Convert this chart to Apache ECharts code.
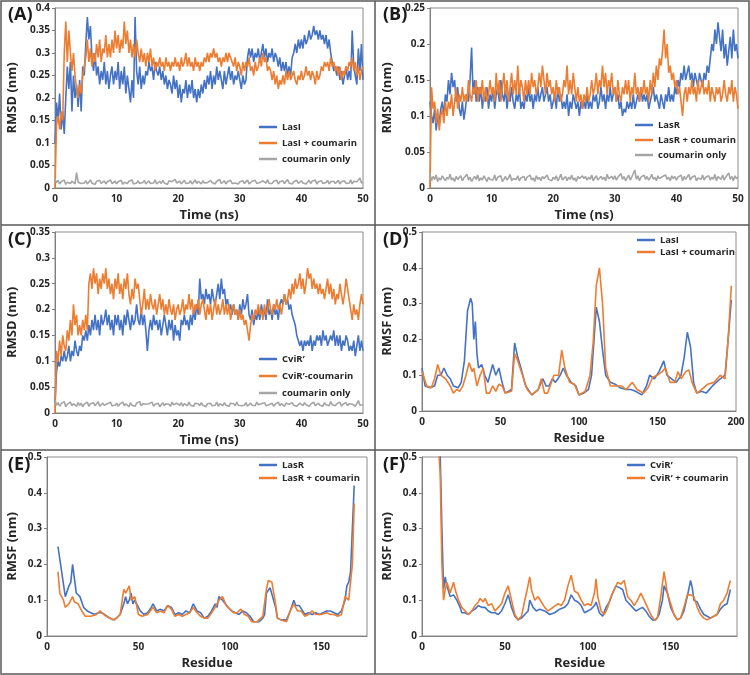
<!DOCTYPE html>
<html><head><meta charset="utf-8">
<script src="https://cdn.jsdelivr.net/npm/echarts@6/dist/echarts.min.js"></script>
<style>html,body{margin:0;padding:0;background:#fff}#c{width:750px;height:675px}</style>
</head><body><div id="c"></div>
<script>
// ---------- RMSD data (time step 0.25 ns, 0..50 ns) ----------
const rmsdStep = 0.25;

const lasI_rmsd = [
0.10,0.19,0.15,0.21, 0.13,0.17,0.12,0.20, 0.27,0.22,0.28,0.17, 0.25,0.20,0.23,0.18, 0.24,0.17,0.27,0.25,
0.32,0.38,0.33,0.36, 0.29,0.26,0.30,0.25, 0.27,0.23,0.26,0.24, 0.28,0.23,0.26,0.22, 0.25,0.27,0.23,0.26,
0.24,0.28,0.22,0.26, 0.23,0.27,0.21,0.25, 0.22,0.19,0.24,0.20, 0.38,0.26,0.23,0.27, 0.22,0.25,0.23,0.26,
0.25,0.28,0.26,0.27, 0.24,0.28,0.26,0.25, 0.27,0.24,0.26,0.23, 0.25,0.22,0.24,0.23, 0.21,0.25,0.22,0.24,
0.20,0.23,0.19,0.22, 0.21,0.24,0.20,0.23, 0.21,0.24,0.20,0.22, 0.19,0.22,0.20,0.23, 0.21,0.24,0.22,0.25,
0.23,0.26,0.22,0.25, 0.23,0.27,0.24,0.26, 0.24,0.22,0.26,0.23, 0.25,0.27,0.24,0.26, 0.23,0.25,0.24,0.26,
0.24,0.22,0.25,0.23, 0.24,0.29,0.31,0.29, 0.31,0.28,0.30,0.29, 0.31,0.28,0.30,0.32, 0.29,0.31,0.28,0.30,
0.29,0.31,0.28,0.30, 0.29,0.27,0.29,0.26, 0.28,0.26,0.28,0.25, 0.27,0.25,0.29,0.30, 0.32,0.30,0.33,0.31,
0.33,0.31,0.34,0.32, 0.33,0.35,0.33,0.34, 0.36,0.34,0.35,0.33, 0.35,0.33,0.34,0.32, 0.34,0.31,0.33,0.30,
0.28,0.26,0.27,0.25, 0.27,0.24,0.26,0.23, 0.25,0.27,0.24,0.26, 0.24,0.35,0.27,0.25, 0.23,0.31,0.26,0.32,
0.24];

const lasIcou_rmsd = [
0.00,0.14,0.16,0.13, 0.17,0.15,0.30,0.37, 0.28,0.35,0.30,0.26, 0.30,0.25,0.22,0.20, 0.23,0.21,0.25,0.27,
0.29,0.33,0.28,0.31, 0.27,0.30,0.28,0.32, 0.29,0.33,0.28,0.31, 0.30,0.34,0.29,0.32, 0.29,0.33,0.30,0.35,
0.31,0.34,0.30,0.33, 0.31,0.37,0.32,0.35, 0.30,0.33,0.29,0.32, 0.29,0.33,0.30,0.28, 0.31,0.28,0.30,0.27,
0.30,0.28,0.31,0.27, 0.29,0.26,0.28,0.27, 0.29,0.27,0.28,0.26, 0.29,0.27,0.28,0.26, 0.28,0.27,0.29,0.27,
0.28,0.26,0.29,0.27, 0.28,0.30,0.27,0.29, 0.27,0.28,0.26,0.29, 0.27,0.28,0.26,0.28, 0.27,0.29,0.28,0.30,
0.28,0.30,0.29,0.31, 0.29,0.30,0.28,0.29, 0.27,0.29,0.28,0.30, 0.28,0.30,0.29,0.28, 0.27,0.29,0.26,0.28,
0.27,0.25,0.28,0.26, 0.28,0.27,0.29,0.26, 0.27,0.25,0.28,0.26, 0.27,0.29,0.27,0.30, 0.28,0.29,0.26,0.27,
0.26,0.24,0.26,0.23, 0.25,0.22,0.24,0.23, 0.25,0.23,0.26,0.24, 0.26,0.24,0.25,0.26, 0.24,0.23,0.25,0.24,
0.26,0.24,0.25,0.27, 0.25,0.26,0.24,0.26, 0.25,0.23,0.26,0.24, 0.25,0.27,0.26,0.28, 0.27,0.28,0.26,0.29,
0.27,0.28,0.26,0.27, 0.25,0.27,0.24,0.26, 0.25,0.27,0.26,0.28, 0.27,0.29,0.26,0.28, 0.25,0.27,0.24,0.26,
0.27];

const couA_rmsd = [
.020,.012,.017,.009,.014,.011,.018,.008,.013,.016,.010,.015,.012,.009,.034,.013,.017,.010,.014,.011,
.016,.009,.013,.018,.011,.014,.008,.015,.012,.017,.010,.013,.016,.009,.014,.011,.018,.010,.012,.015,
.009,.014,.011,.017,.008,.013,.016,.010,.015,.012,.018,.009,.013,.011,.016,.010,.014,.012,.017,.009,
.013,.016,.010,.014,.011,.018,.009,.012,.015,.010,.017,.011,.013,.008,.016,.012,.014,.010,.019,.011,
.012,.015,.009,.013,.017,.010,.014,.011,.016,.009,.013,.018,.010,.015,.012,.009,.016,.011,.014,.012,
.010,.017,.012,.014,.009,.015,.011,.019,.010,.013,.016,.009,.014,.012,.017,.010,.013,.011,.015,.009,
.014,.011,.016,.010,.013,.018,.009,.012,.015,.011,.017,.010,.014,.012,.009,.016,.013,.011,.018,.010,
.013,.010,.015,.012,.017,.009,.014,.011,.016,.010,.013,.019,.011,.015,.009,.014,.012,.017,.010,.013,
.016,.011,.014,.009,.013,.017,.010,.015,.012,.018,.009,.014,.011,.016,.010,.013,.012,.017,.009,.014,
.011,.015,.010,.013,.017,.009,.014,.012,.016,.010,.013,.011,.018,.009,.015,.012,.014,.010,.022,.011,
.013];

const lasR_rmsd = [
0.12,0.10,0.09,0.11, 0.08,0.10,0.09,0.11, 0.12,0.10,0.13,0.12, 0.15,0.13,0.16,0.14, 0.15,0.12,0.14,0.11,
0.10,0.12,0.095,0.11, 0.13,0.12,0.15,0.195, 0.13,0.15,0.12,0.14, 0.12,0.14,0.11,0.13, 0.12,0.14,0.11,0.13,
0.12,0.14,0.11,0.13, 0.14,0.12,0.15,0.13, 0.12,0.14,0.11,0.13, 0.12,0.14,0.12,0.11, 0.13,0.12,0.14,0.11,
0.12,0.11,0.13,0.12, 0.14,0.12,0.13,0.11, 0.13,0.12,0.14,0.12, 0.13,0.14,0.12,0.13, 0.14,0.12,0.13,0.11,
0.12,0.13,0.11,0.14, 0.12,0.13,0.11,0.12, 0.11,0.13,0.10,0.12, 0.11,0.13,0.12,0.11, 0.12,0.10,0.12,0.11,
0.12,0.11,0.13,0.11, 0.12,0.11,0.13,0.12, 0.13,0.11,0.12,0.14, 0.12,0.13,0.11,0.13, 0.12,0.14,0.12,0.13,
0.14,0.12,0.13,0.11, 0.12,0.10,0.11,0.105, 0.12,0.11,0.12,0.11, 0.13,0.11,0.12,0.13, 0.12,0.14,0.12,0.13,
0.12,0.13,0.11,0.12, 0.13,0.14,0.12,0.13, 0.12,0.11,0.13,0.12, 0.11,0.13,0.12,0.14, 0.12,0.13,0.12,0.14,
0.13,0.15,0.14,0.16, 0.15,0.17,0.15,0.16, 0.17,0.15,0.16,0.14, 0.16,0.15,0.14,0.16, 0.15,0.14,0.16,0.15,
0.17,0.16,0.18,0.20, 0.19,0.22,0.20,0.23, 0.21,0.19,0.22,0.18, 0.20,0.17,0.19,0.21, 0.18,0.22,0.19,0.20,
0.18];

const lasRcou_rmsd = [
0.00,0.14,0.11,0.12, 0.09,0.11,0.08,0.10, 0.11,0.09,0.12,0.10, 0.12,0.11,0.13,0.10, 0.12,0.14,0.11,0.13,
0.12,0.14,0.12,0.13, 0.12,0.15,0.13,0.12, 0.14,0.13,0.15,0.12, 0.14,0.13,0.15,0.12, 0.14,0.12,0.13,0.15,
0.13,0.14,0.12,0.16, 0.13,0.15,0.12,0.14, 0.16,0.13,0.15,0.12, 0.14,0.16,0.13,0.15, 0.13,0.17,0.13,0.15,
0.14,0.12,0.15,0.13, 0.15,0.13,0.16,0.14, 0.15,0.13,0.14,0.16, 0.14,0.17,0.15,0.13, 0.16,0.14,0.15,0.13,
0.14,0.12,0.15,0.13, 0.14,0.12,0.13,0.15, 0.14,0.17,0.13,0.15, 0.13,0.16,0.14,0.12, 0.14,0.12,0.13,0.11,
0.13,0.12,0.14,0.12, 0.13,0.15,0.13,0.14, 0.16,0.13,0.15,0.14, 0.17,0.14,0.16,0.13, 0.15,0.14,0.16,0.13,
0.14,0.12,0.15,0.13, 0.12,0.14,0.13,0.15, 0.13,0.15,0.12,0.14, 0.13,0.16,0.13,0.14, 0.12,0.14,0.13,0.15,
0.13,0.14,0.12,0.15, 0.13,0.16,0.14,0.17, 0.15,0.18,0.17,0.19, 0.22,0.18,0.20,0.16, 0.17,0.15,0.16,0.14,
0.15,0.13,0.14,0.12, 0.10,0.13,0.14,0.12, 0.14,0.13,0.15,0.13, 0.14,0.12,0.15,0.13, 0.14,0.15,0.13,0.14,
0.13,0.15,0.12,0.14, 0.13,0.12,0.14,0.13, 0.14,0.12,0.13,0.15, 0.13,0.12,0.14,0.13, 0.15,0.12,0.14,0.13,
0.11];

const couB_rmsd = [
.020,.010,.016,.012,.018,.009,.014,.011,.017,.013,.010,.015,.012,.019,.011,.014,.009,.016,.012,.013,
.017,.010,.014,.012,.019,.011,.015,.009,.013,.016,.012,.018,.010,.014,.011,.017,.013,.009,.015,.012,
.014,.011,.018,.010,.015,.013,.017,.009,.012,.016,.011,.014,.019,.010,.013,.015,.012,.017,.010,.014,
.012,.016,.010,.015,.013,.018,.011,.014,.009,.017,.012,.015,.010,.016,.013,.011,.018,.012,.014,.010,
.015,.012,.017,.010,.014,.019,.011,.013,.016,.010,.015,.012,.018,.011,.014,.009,.016,.013,.011,.017,
.013,.016,.011,.015,.012,.018,.010,.014,.017,.011,.013,.016,.012,.015,.010,.019,.013,.011,.016,.012,
.017,.011,.015,.013,.020,.012,.016,.010,.014,.018,.011,.015,.013,.025,.012,.017,.010,.015,.013,.018,
.012,.016,.011,.014,.019,.012,.015,.010,.017,.013,.011,.016,.014,.018,.012,.015,.010,.017,.013,.016,
.011,.015,.013,.018,.010,.016,.012,.014,.019,.011,.015,.013,.017,.010,.014,.016,.012,.018,.011,.015,
.013,.017,.011,.015,.012,.019,.010,.016,.014,.012,.018,.011,.015,.013,.021,.012,.016,.010,.017,.013,
.015];

const cviR_rmsd = [
0.02,0.08,0.10,0.09, 0.11,0.10,0.12,0.10, 0.11,0.13,0.10,0.12, 0.11,0.14,0.12,0.11, 0.13,0.12,0.15,0.14,
0.16,0.14,0.17,0.15, 0.18,0.16,0.19,0.16, 0.18,0.15,0.19,0.17, 0.18,0.20,0.17,0.19, 0.16,0.18,0.15,0.19,
0.17,0.19,0.16,0.18, 0.15,0.19,0.17,0.20, 0.18,0.16,0.19,0.17, 0.18,0.21,0.18,0.17, 0.20,0.17,0.19,0.16,
0.12,0.16,0.18,0.16, 0.19,0.17,0.18,0.16, 0.18,0.15,0.17,0.19, 0.17,0.15,0.18,0.16, 0.18,0.14,0.17,0.15,
0.16,0.14,0.18,0.17, 0.19,0.17,0.18,0.16, 0.19,0.17,0.20,0.18, 0.21,0.19,0.26,0.22, 0.23,0.21,0.24,0.22,
0.23,0.21,0.24,0.22, 0.21,0.23,0.25,0.22, 0.26,0.23,0.24,0.21, 0.22,0.20,0.21,0.19, 0.21,0.19,0.20,0.18,
0.21,0.19,0.22,0.20, 0.21,0.23,0.19,0.18, 0.20,0.17,0.19,0.18, 0.20,0.18,0.21,0.19, 0.20,0.18,0.22,0.19,
0.20,0.18,0.21,0.19, 0.20,0.18,0.21,0.22, 0.21,0.23,0.21,0.22, 0.20,0.21,0.19,0.18, 0.17,0.15,0.14,0.13,
0.14,0.12,0.14,0.13, 0.14,0.13,0.15,0.12, 0.14,0.13,0.15,0.14, 0.15,0.13,0.16,0.14, 0.15,0.13,0.14,0.15,
0.14,0.16,0.13,0.15, 0.13,0.15,0.12,0.14, 0.13,0.15,0.14,0.12, 0.13,0.12,0.14,0.11, 0.13,0.15,0.12,0.14,
0.12];

const cviRcou_rmsd = [
0.00,0.12,0.10,0.14, 0.11,0.15,0.13,0.12, 0.16,0.14,0.18,0.15, 0.21,0.17,0.19,0.15, 0.17,0.15,0.18,0.16,
0.19,0.16,0.25,0.27, 0.24,0.28,0.25,0.27, 0.23,0.26,0.24,0.27, 0.25,0.28,0.24,0.26, 0.23,0.25,0.22,0.26,
0.24,0.27,0.23,0.25, 0.22,0.26,0.24,0.27, 0.23,0.21,0.24,0.22, 0.26,0.24,0.25,0.22, 0.19,0.21,0.24,0.20,
0.22,0.20,0.23,0.21, 0.20,0.22,0.19,0.21, 0.23,0.20,0.22,0.19, 0.21,0.19,0.22,0.20, 0.19,0.21,0.18,0.20,
0.21,0.19,0.20,0.22, 0.19,0.21,0.20,0.23, 0.20,0.22,0.19,0.21, 0.20,0.22,0.19,0.21, 0.22,0.20,0.18,0.21,
0.19,0.21,0.18,0.20, 0.22,0.19,0.21,0.19, 0.20,0.22,0.19,0.21, 0.19,0.21,0.18,0.20, 0.21,0.19,0.20,0.18,
0.20,0.18,0.19,0.17, 0.18,0.16,0.14,0.17, 0.19,0.18,0.20,0.19, 0.21,0.19,0.20,0.18, 0.21,0.19,0.20,0.22,
0.20,0.19,0.21,0.20, 0.22,0.20,0.21,0.19, 0.21,0.23,0.21,0.22, 0.24,0.22,0.25,0.23, 0.26,0.24,0.25,0.27,
0.24,0.26,0.23,0.25, 0.28,0.26,0.27,0.24, 0.26,0.24,0.25,0.23, 0.25,0.23,0.24,0.22, 0.24,0.26,0.23,0.25,
0.22,0.24,0.21,0.23, 0.22,0.25,0.23,0.21, 0.23,0.26,0.24,0.22, 0.20,0.18,0.21,0.19, 0.20,0.18,0.21,0.23,
0.21];

const couC_rmsd = [
.025,.015,.020,.013,.018,.016,.022,.012,.017,.015,.021,.014,.018,.016,.013,.020,.015,.019,.012,.017,
.016,.021,.013,.018,.015,.020,.014,.017,.022,.013,.016,.019,.015,.012,.018,.016,.021,.014,.017,.015,
.019,.013,.017,.015,.021,.014,.018,.016,.012,.020,.015,.017,.013,.019,.016,.022,.014,.018,.015,.017,
.014,.018,.016,.021,.013,.017,.015,.019,.012,.016,.020,.014,.018,.015,.017,.013,.021,.016,.014,.019,
.017,.015,.020,.013,.018,.016,.014,.021,.015,.017,.013,.019,.016,.018,.014,.020,.015,.017,.012,.018,
.016,.019,.014,.017,.015,.021,.013,.018,.016,.014,.020,.015,.017,.013,.019,.016,.018,.014,.021,.015,
.018,.014,.017,.015,.020,.013,.016,.019,.015,.017,.014,.021,.016,.013,.018,.015,.020,.014,.017,.016,
.015,.019,.013,.017,.016,.021,.014,.018,.015,.013,.019,.016,.017,.014,.020,.015,.018,.013,.016,.019,
.017,.014,.020,.016,.018,.013,.017,.015,.021,.014,.016,.019,.015,.017,.013,.020,.016,.018,.014,.022,
.016,.019,.014,.018,.015,.021,.013,.017,.016,.020,.014,.018,.015,.017,.019,.013,.016,.024,.015,.018,
.016];

// ---------- RMSF data ----------
const lasI_res = [0,2,5,8,10,12,14,16,18,20,23,25,27,29,31,32,33,34,35,36,38,40,42,45,47,49,51,53,57,59,61,63,66,70,74,77,79,81,83,85,88,90,92,95,98,100,103,106,108,111,113,115,117,120,123,126,130,133,136,140,143,145,148,151,154,156,159,162,165,167,169,171,173,175,178,181,185,190,193,195,197];
const lasI_rmsf = [0.12,0.07,0.065,0.07,0.10,0.10,0.12,0.10,0.09,0.07,0.065,0.08,0.14,0.28,0.315,0.30,0.20,0.25,0.16,0.12,0.13,0.10,0.08,0.13,0.10,0.12,0.08,0.05,0.06,0.19,0.15,0.12,0.07,0.045,0.06,0.09,0.07,0.07,0.09,0.08,0.10,0.12,0.10,0.08,0.07,0.045,0.05,0.06,0.10,0.29,0.25,0.17,0.10,0.08,0.075,0.065,0.06,0.06,0.055,0.045,0.07,0.10,0.09,0.11,0.14,0.10,0.09,0.08,0.10,0.15,0.22,0.18,0.08,0.05,0.055,0.05,0.07,0.09,0.10,0.20,0.31];

const lasIcou_res = [0,3,6,8,10,12,15,18,20,22,24,26,28,30,32,33,35,37,39,41,43,45,47,49,51,53,57,59,61,64,67,70,74,76,78,80,84,87,89,91,94,97,100,104,107,109,111,113,115,117,120,124,127,130,134,137,141,144,147,150,153,155,158,161,163,165,168,170,172,175,178,182,186,190,193,195,197];
const lasIcou_rmsf = [0.11,0.07,0.065,0.09,0.13,0.10,0.09,0.07,0.05,0.06,0.055,0.07,0.10,0.135,0.11,0.12,0.07,0.10,0.12,0.05,0.05,0.07,0.055,0.075,0.07,0.05,0.055,0.16,0.14,0.10,0.06,0.045,0.06,0.09,0.05,0.05,0.10,0.10,0.17,0.12,0.08,0.075,0.045,0.055,0.10,0.19,0.35,0.40,0.30,0.12,0.07,0.07,0.07,0.06,0.08,0.06,0.05,0.065,0.095,0.10,0.11,0.12,0.08,0.08,0.11,0.09,0.11,0.115,0.08,0.05,0.06,0.075,0.08,0.10,0.09,0.20,0.35];

const lasR_res = [6,8,10,12,13,14,15,16,18,20,22,24,26,28,30,33,36,38,40,42,43,44,45,46,47,48,49,51,53,55,57,58,60,62,64,66,68,70,72,74,76,78,80,82,84,86,88,90,92,93,94,96,97,99,101,103,105,107,109,111,113,116,118,119,120,122,123,125,126,128,131,133,135,136,138,139,141,143,145,147,149,151,153,155,157,159,161,163,164,165,166,167,168];
const lasR_rmsf = [0.25,0.18,0.11,0.14,0.15,0.20,0.16,0.12,0.11,0.08,0.07,0.065,0.06,0.065,0.065,0.055,0.045,0.05,0.06,0.09,0.11,0.09,0.10,0.12,0.09,0.10,0.10,0.07,0.06,0.065,0.08,0.09,0.07,0.075,0.07,0.085,0.08,0.06,0.065,0.06,0.07,0.065,0.09,0.07,0.065,0.05,0.055,0.07,0.09,0.08,0.11,0.10,0.105,0.08,0.07,0.065,0.06,0.07,0.065,0.055,0.04,0.04,0.05,0.06,0.12,0.135,0.13,0.08,0.05,0.045,0.045,0.07,0.10,0.085,0.085,0.08,0.06,0.065,0.06,0.065,0.06,0.065,0.07,0.07,0.065,0.06,0.07,0.10,0.14,0.15,0.18,0.30,0.42];

const lasRcou_res = [6,7,9,10,12,13,14,15,17,19,21,24,27,29,31,34,37,40,42,43,45,46,48,50,52,55,58,60,62,64,66,68,70,72,74,76,78,80,82,84,86,88,90,92,94,95,96,98,100,102,104,106,108,110,112,115,118,120,121,123,125,126,128,131,133,135,137,139,141,143,145,147,150,153,155,157,159,161,163,165,166,167,168];
const lasRcou_rmsf = [0.18,0.12,0.10,0.08,0.09,0.10,0.11,0.095,0.09,0.07,0.055,0.055,0.06,0.07,0.06,0.05,0.045,0.06,0.13,0.12,0.14,0.10,0.11,0.06,0.055,0.06,0.08,0.065,0.07,0.065,0.085,0.075,0.055,0.06,0.055,0.06,0.065,0.08,0.065,0.055,0.05,0.05,0.065,0.08,0.10,0.10,0.11,0.085,0.075,0.065,0.065,0.075,0.06,0.055,0.04,0.04,0.055,0.13,0.155,0.15,0.09,0.05,0.045,0.04,0.07,0.09,0.07,0.07,0.055,0.06,0.07,0.06,0.06,0.065,0.06,0.06,0.055,0.06,0.11,0.10,0.10,0.20,0.37];

const cviR_res = [10,11,12,13,14,15,17,19,21,23,24,26,28,30,32,34,36,38,40,42,44,46,48,50,52,54,56,58,60,62,64,65,67,69,71,74,77,80,83,86,88,90,92,94,96,98,100,102,104,105,107,109,111,113,115,117,119,121,123,125,127,129,131,133,135,137,139,141,143,145,146,148,150,152,154,156,158,160,162,163,164,166,168,170,172,174,176,178,180,182,184,186];
const cviR_rmsf = [0.60,0.50,0.30,0.13,0.165,0.14,0.11,0.115,0.10,0.08,0.065,0.065,0.06,0.07,0.075,0.085,0.08,0.08,0.07,0.065,0.065,0.06,0.07,0.09,0.115,0.08,0.055,0.045,0.05,0.06,0.07,0.10,0.08,0.07,0.075,0.07,0.06,0.065,0.075,0.08,0.09,0.115,0.10,0.095,0.085,0.065,0.07,0.075,0.085,0.095,0.065,0.055,0.08,0.095,0.12,0.14,0.135,0.13,0.10,0.09,0.08,0.07,0.075,0.08,0.07,0.055,0.045,0.045,0.06,0.10,0.14,0.12,0.08,0.06,0.045,0.05,0.07,0.11,0.155,0.135,0.10,0.095,0.075,0.06,0.055,0.05,0.055,0.06,0.075,0.085,0.09,0.13];

const cviRcou_res = [9,11,12,13,14,15,17,19,20,22,24,26,28,30,32,34,35,37,38,40,42,44,46,48,50,52,54,56,58,60,62,63,65,66,68,70,72,74,76,79,82,84,86,88,90,92,94,96,98,100,102,104,105,106,108,110,112,114,116,118,120,122,124,126,128,130,132,134,136,138,140,142,144,146,148,150,152,154,156,158,160,162,164,166,168,170,172,174,176,178,180,182,184,186];
const cviRcou_rmsf = [0.60,0.45,0.20,0.10,0.13,0.15,0.12,0.15,0.13,0.10,0.08,0.07,0.06,0.07,0.085,0.095,0.105,0.095,0.105,0.085,0.09,0.07,0.08,0.09,0.12,0.14,0.10,0.06,0.045,0.055,0.10,0.12,0.165,0.13,0.10,0.11,0.095,0.08,0.07,0.08,0.09,0.085,0.10,0.14,0.17,0.125,0.12,0.10,0.085,0.09,0.085,0.12,0.16,0.11,0.07,0.06,0.08,0.11,0.13,0.15,0.145,0.155,0.11,0.10,0.085,0.10,0.12,0.10,0.08,0.06,0.045,0.05,0.11,0.18,0.12,0.09,0.06,0.045,0.05,0.08,0.115,0.115,0.11,0.08,0.06,0.05,0.045,0.05,0.055,0.06,0.09,0.10,0.12,0.155];

// ---------- styling ----------
const BLUE = '#4472C4', ORANGE = '#ED7D31', GRAY = '#A5A5A5';
const FONT = '"Open Sans", "Liberation Sans", sans-serif';
const TXT = '#262626';

const timePairs = vals => vals.map((v, i) => [i * rmsdStep, v]);
const resPairs = (res, vals) => res.map((r, i) => [r, vals[i]]);

const panels = [
  { label:'(A)', lx:8, ly:6, grid:{left:55, top:8, width:308, height:180}, xmax:50, xint:10, xname:'Time (ns)', ymax:0.4, yint:0.05, yname:'RMSD (nm)', ygap:36,
    legend:{left:259, top:121, gap:4, data:['LasI','LasI + coumarin','coumarin only']} },
  { label:'(B)', lx:383, ly:6, grid:{left:430, top:8, width:308, height:180}, xmax:50, xint:10, xname:'Time (ns)', ymax:0.25, yint:0.05, yname:'RMSD (nm)', ygap:36,
    legend:{left:635, top:119, gap:3, data:['LasR','LasR + coumarin','coumarin only']} },
  { label:'(C)', lx:8, ly:231, grid:{left:55, top:232, width:308, height:181}, xmax:50, xint:10, xname:'Time (ns)', ymax:0.35, yint:0.05, yname:'RMSD (nm)', ygap:36,
    legend:{left:259, top:353, gap:5, data:["CviR’","CviR’-coumarin",'coumarin only']} },
  { label:'(D)', lx:383, ly:231, grid:{left:422, top:232, width:314, height:179}, xmax:200, xint:50, xname:'Residue', ymax:0.5, yint:0.1, yname:'RMSF (nm)', ygap:28,
    legend:{left:637, top:234, gap:0, data:['LasI','LasI + coumarin']} },
  { label:'(E)', lx:8, ly:456, grid:{left:47, top:457, width:320, height:179}, xmax:175, xint:50, xname:'Residue', ymax:0.5, yint:0.1, yname:'RMSF (nm)', ygap:28,
    legend:{left:259, top:459, gap:1, data:['LasR','LasR + coumarin']} },
  { label:'(F)', lx:383, ly:456, grid:{left:422, top:457, width:315, height:179}, xmax:190, xint:50, xname:'Residue', ymax:0.5, yint:0.1, yname:'RMSF (nm)', ygap:28,
    legend:{left:627, top:459, gap:1, data:["CviR’","CviR’ + coumarin"]} }
];

const seriesDefs = [
  [0,'LasI',BLUE,timePairs(lasI_rmsd),1.6],
  [0,'LasI + coumarin',ORANGE,timePairs(lasIcou_rmsd),1.6],
  [0,'coumarin only',GRAY,timePairs(couA_rmsd),1.6],
  [1,'LasR',BLUE,timePairs(lasR_rmsd),1.6],
  [1,'LasR + coumarin',ORANGE,timePairs(lasRcou_rmsd),1.6],
  [1,'coumarin only',GRAY,timePairs(couB_rmsd),1.6],
  [2,"CviR’",BLUE,timePairs(cviR_rmsd),1.6],
  [2,"CviR’-coumarin",ORANGE,timePairs(cviRcou_rmsd),1.6],
  [2,'coumarin only',GRAY,timePairs(couC_rmsd),1.6],
  [3,'LasI',BLUE,resPairs(lasI_res,lasI_rmsf),1.6],
  [3,'LasI + coumarin',ORANGE,resPairs(lasIcou_res,lasIcou_rmsf),1.6],
  [4,'LasR',BLUE,resPairs(lasR_res,lasR_rmsf),1.6],
  [4,'LasR + coumarin',ORANGE,resPairs(lasRcou_res,lasRcou_rmsf),1.6],
  [5,"CviR’",BLUE,resPairs(cviR_res,cviR_rmsf),1.6],
  [5,"CviR’ + coumarin",ORANGE,resPairs(cviRcou_res,cviRcou_rmsf),1.6]
];

const option = {
  animation: false,
  backgroundColor: '#fff',
  grid: panels.map(p => Object.assign({show:true, borderColor:'#8c8c8c', borderWidth:1, backgroundColor:'transparent'}, p.grid)),
  xAxis: panels.map((p, i) => ({
    type:'value', gridIndex:i, min:0, max:p.xmax, interval:p.xint,
    name:p.xname, nameLocation:'middle', nameGap:21,
    nameTextStyle:{fontFamily:FONT, fontWeight:'bold', fontSize:13, color:TXT},
    axisLine:{show:true, onZero:false, lineStyle:{color:'#7f7f7f'}},
    axisTick:{show:false},
    splitLine:{show:false},
    axisLabel:{fontFamily:FONT, fontWeight:'bold', fontSize:10, color:TXT, margin:6, showMaxLabel: p.xmax % p.xint === 0}
  })),
  yAxis: panels.map((p, i) => ({
    type:'value', gridIndex:i, min:0, max:p.ymax, interval:p.yint,
    name:p.yname, nameLocation:'middle', nameGap:p.ygap, nameRotate:90,
    nameTextStyle:{fontFamily:FONT, fontWeight:'bold', fontSize:13, color:TXT},
    axisLine:{show:true, lineStyle:{color:'#7f7f7f'}},
    axisTick:{show:true, length:3, lineStyle:{color:'#7f7f7f'}},
    splitLine:{show:false},
    axisLabel:{fontFamily:FONT, fontWeight:'bold', fontSize:10, color:TXT, margin:5}
  })),
  legend: panels.map(p => ({
    orient:'vertical', left:p.legend.left, top:p.legend.top, data:p.legend.data,
    icon:'rect', itemWidth:18, itemHeight:2.5, itemGap:p.legend.gap,
    selectedMode:false, padding:0,
    textStyle:{fontFamily:FONT, fontWeight:'bold', fontSize:9.5, color:TXT, lineHeight:12}
  })),
  series: seriesDefs.map(([g, name, color, data, w]) => ({
    type:'line', name, xAxisIndex:g, yAxisIndex:g, data,
    showSymbol:false, symbol:'none', clip:true,
    lineStyle:{color, width:w}, itemStyle:{color},
    emphasis:{disabled:true}
  })),
  graphic: [
    {type:'rect', shape:{x:1, y:1, width:748, height:673}, style:{fill:'none', stroke:'#595959', lineWidth:1.5}, silent:true},
    {type:'line', shape:{x1:375, y1:1, x2:375, y2:674}, style:{stroke:'#595959', lineWidth:1.5}, silent:true},
    {type:'line', shape:{x1:1, y1:225, x2:749, y2:225}, style:{stroke:'#595959', lineWidth:1.5}, silent:true},
    {type:'line', shape:{x1:1, y1:450, x2:749, y2:450}, style:{stroke:'#595959', lineWidth:1.5}, silent:true}
  ].concat(panels.map(p => ({
    type:'text', left:p.lx, top:p.ly, z:100,
    style:{text:p.label, font:'bold 18px ' + FONT, fill:'#1a1a1a'}
  })))
};

const chart = echarts.init(document.getElementById('c'), null, {renderer:'canvas'});
chart.setOption(option);
</script>
</body></html>
